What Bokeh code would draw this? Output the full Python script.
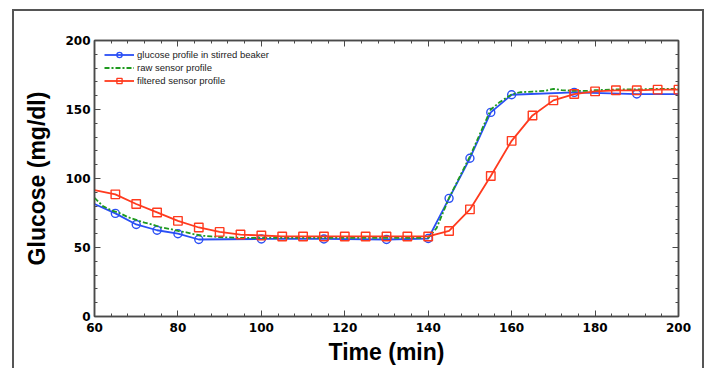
from bokeh.plotting import figure
from bokeh.models import LinearAxis, Range1d, SingleIntervalTicker, CustomJSTickFormatter
from bokeh.embed import file_html
from bokeh.resources import INLINE

# ---- data ----
blue_t = [60, 65, 70, 75, 80, 85, 100, 115, 130, 140, 145, 150, 155, 160, 175, 190, 200]
blue_g = [81.5, 74.7, 66.7, 62.5, 60.0, 55.8, 56.2, 56.2, 55.8, 56.5, 85.6, 114.7, 147.9, 160.7, 162.4, 161.2, 161.2]
blue_mk_t = [65, 70, 75, 80, 85, 100, 115, 130, 140, 145, 150, 155, 160, 175, 190]
blue_mk_g = [74.7, 66.7, 62.5, 60.0, 55.8, 56.2, 56.2, 55.8, 56.5, 85.6, 114.7, 147.9, 160.7, 162.4, 161.2]

raw_t = [60, 62, 64, 66, 68, 70, 72, 74, 76, 78, 80, 82, 84, 86, 88, 90, 95, 100, 105, 110,
         115, 120, 125, 130, 135, 140, 142, 145, 150, 155, 157, 160, 162, 165, 168, 170,
         172, 175, 178, 180, 185, 190, 195, 200]
raw_g = [86, 80, 77, 75, 72, 70, 68, 66.5, 64.5, 63.5, 62, 61, 59.5, 58.5, 58, 57.5, 57, 57, 57, 57,
         57, 57, 57, 57, 57, 57, 64, 86, 116, 150, 155, 161, 162.5, 163, 163.5, 165,
         164, 163.5, 163.5, 164, 164.5, 164.5, 165, 165]

filt_t = [60, 65, 70, 75, 80, 85, 90, 95, 100, 105, 110, 115, 120, 125, 130, 135, 140,
          145, 150, 155, 160, 165, 170, 175, 180, 185, 190, 195, 200]
filt_g = [91.6, 88.5, 81.5, 75.4, 69.3, 64.5, 61.3, 59.4, 58.7, 58.0, 58.0, 58.0, 58.0, 58.0, 58.0, 58.0, 58.0,
          62.0, 77.6, 101.8, 127.3, 145.7, 156.6, 161.2, 163.1, 163.9, 163.9, 164.4, 164.4]
filt_mk_t = filt_t[1:]
filt_mk_g = filt_g[1:]

BLUE = "#2a4ff5"
GREEN = "#1f9a1f"
RED = "#ff3a1e"
AX = "#4a4a4a"

p = figure(width=692, height=359, output_backend="svg", toolbar_location=None,
           x_range=Range1d(60, 200), y_range=Range1d(0, 200),
           min_border_left=80, min_border_right=28, min_border_top=29, min_border_bottom=54,
           x_axis_label="Time (min)", y_axis_label="Glucose (mg/dl)")
p.styles = {"margin-left": "12px", "margin-top": "9px",
            "border-style": "solid", "border-color": "#555555",
            "border-width": "2px 2px 0px 2px"}
p.grid.visible = False
p.outline_line_color = AX
p.outline_line_width = 1.5
p.background_fill_color = "white"
p.border_fill_color = "white"

def style_axis(ax):
    ax.axis_line_color = AX
    ax.axis_line_width = 1.5
    ax.major_tick_line_color = AX
    ax.minor_tick_line_color = AX
    ax.major_tick_in = 6
    ax.major_tick_out = 0
    ax.minor_tick_in = 3
    ax.minor_tick_out = 0
    ax.major_label_text_font = "DejaVu Sans"
    ax.major_label_text_font_style = "bold"
    ax.major_label_text_font_size = "12px"
    ax.major_label_text_color = "black"
    ax.axis_label_text_font = "Liberation Sans"
    ax.axis_label_text_font_style = "bold"
    ax.axis_label_text_font_size = "23px"
    ax.axis_label_text_color = "black"

p.xaxis.ticker = SingleIntervalTicker(interval=20, num_minor_ticks=5)
p.yaxis.ticker = SingleIntervalTicker(interval=50, num_minor_ticks=5)
for ax in p.xaxis:
    style_axis(ax)
    ax.major_label_standoff = 6
    ax.axis_label_standoff = 4
for ax in p.yaxis:
    style_axis(ax)
    ax.major_label_standoff = 4
    ax.axis_label_standoff = 12

blank = CustomJSTickFormatter(code="return ''")
top_ax = LinearAxis(ticker=SingleIntervalTicker(interval=20, num_minor_ticks=5), formatter=blank)
style_axis(top_ax)
top_ax.major_label_standoff = 0
p.add_layout(top_ax, "above")
right_ax = LinearAxis(ticker=SingleIntervalTicker(interval=50, num_minor_ticks=5), formatter=blank)
style_axis(right_ax)
right_ax.major_label_standoff = 0
p.add_layout(right_ax, "right")

# ---- series ----
p.line(blue_t, blue_g, color=BLUE, line_width=1.8, legend_label="glucose profile in stirred beaker")
p.scatter(blue_mk_t, blue_mk_g, marker="circle", size=8, line_color=BLUE, fill_color=None,
          line_width=1.4, legend_label="glucose profile in stirred beaker")

p.line(raw_t, raw_g, color=GREEN, line_width=1.8, line_dash="5 2 2 2", legend_label="raw sensor profile")

p.line(filt_t, filt_g, color=RED, line_width=1.8, legend_label="filtered sensor profile")
p.scatter(filt_mk_t, filt_mk_g, marker="square", size=8.5, line_color=RED, fill_color=None,
          line_width=1.4, legend_label="filtered sensor profile")

leg = p.legend[0]
leg.location = (10, 229)
leg.margin = 0
leg.padding = 0
leg.spacing = 0
leg.border_line_color = None
leg.background_fill_alpha = 0
leg.glyph_width = 30
leg.glyph_height = 13
leg.label_height = 13
leg.label_standoff = 3
leg.label_text_font = "Liberation Sans"
leg.label_text_font_size = "9.5px"
leg.label_text_color = "#222222"

open("out.html", "w").write(file_html(p, INLINE))
